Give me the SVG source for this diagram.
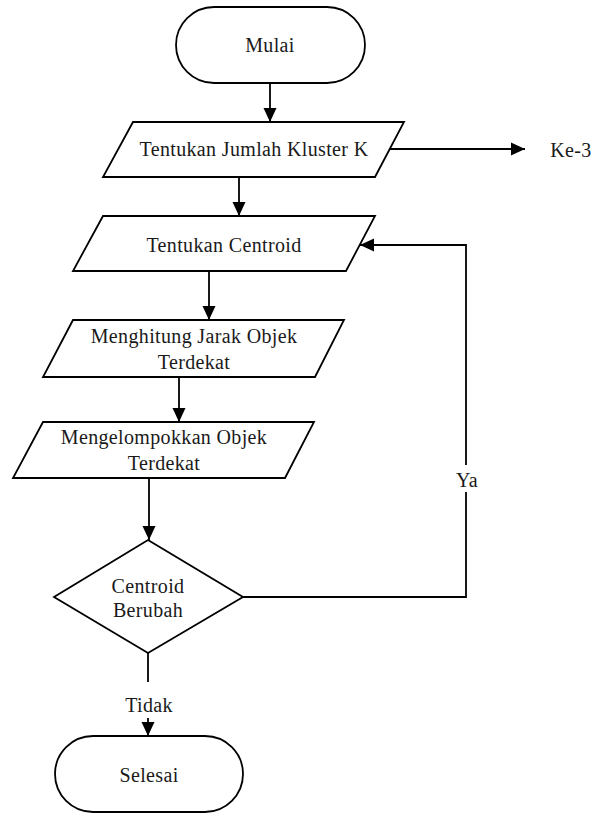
<svg xmlns="http://www.w3.org/2000/svg" width="601" height="813" viewBox="0 0 601 813">
<style>
.s{fill:#fff;stroke:#000;stroke-width:1.8}
.c{fill:none;stroke:#000;stroke-width:1.8}
.t{font-family:"Liberation Serif","Times New Roman",serif;font-size:20px;fill:#1a1a1a;text-anchor:middle;letter-spacing:0.35px}
</style>
<defs>
<marker id="ah" markerUnits="userSpaceOnUse" markerWidth="14" markerHeight="14" refX="14" refY="7" orient="auto">
<path d="M0,0.5 L14,7 L0,13.5 z" fill="#000"/>
</marker>
</defs>
<rect width="601" height="813" fill="#fff"/>
<g id="connectors">
<path class="c" d="M270,83 V122" marker-end="url(#ah)"/>
<path class="c" d="M389,149 H525" marker-end="url(#ah)"/>
<path class="c" d="M239,177 V216" marker-end="url(#ah)"/>
<path class="c" d="M209,271 V320" marker-end="url(#ah)"/>
<path class="c" d="M179,377 V422" marker-end="url(#ah)"/>
<path class="c" d="M149,478 V540" marker-end="url(#ah)"/>
<path class="c" d="M148,653 V682"/>
<path class="c" d="M148,718 V736" marker-end="url(#ah)"/>
<path class="c" d="M243,597 H466 V492 M466,465 V245 H360" marker-end="url(#ah)"/>
<text class="t" x="467" y="487">Ya</text>
<text class="t" x="149" y="712">Tidak</text>
<text class="t" x="571" y="157">Ke-3</text>
</g>
<g id="mulai">
<rect class="s" x="176" y="7" width="189" height="76" rx="38" ry="38"/>
<text class="t" x="270" y="52">Mulai</text>
</g>
<g id="jumlah-kluster">
<polygon class="s" points="133,122 404,122 375,177 103,177"/>
<text class="t" x="254" y="156">Tentukan Jumlah Kluster K</text>
</g>
<g id="centroid">
<polygon class="s" points="103,216 375,216 346,271 73,271"/>
<text class="t" x="224" y="252">Tentukan Centroid</text>
</g>
<g id="jarak">
<polygon class="s" points="73,320 344,320 315,377 43,377"/>
<text class="t" x="194" y="343">Menghitung Jarak Objek</text>
<text class="t" x="194" y="369">Terdekat</text>
</g>
<g id="kelompok">
<polygon class="s" points="43,422 314,422 285,478 13,478"/>
<text class="t" x="164" y="444">Mengelompokkan Objek</text>
<text class="t" x="164" y="470">Terdekat</text>
</g>
<g id="decision">
<polygon class="s" points="148,540 243,597 148,653 54,597"/>
<text class="t" x="148" y="593">Centroid</text>
<text class="t" x="148" y="617">Berubah</text>
</g>
<g id="selesai">
<rect class="s" x="55" y="736" width="188" height="76" rx="38" ry="38"/>
<text class="t" x="149" y="782">Selesai</text>
</g>
</svg>
